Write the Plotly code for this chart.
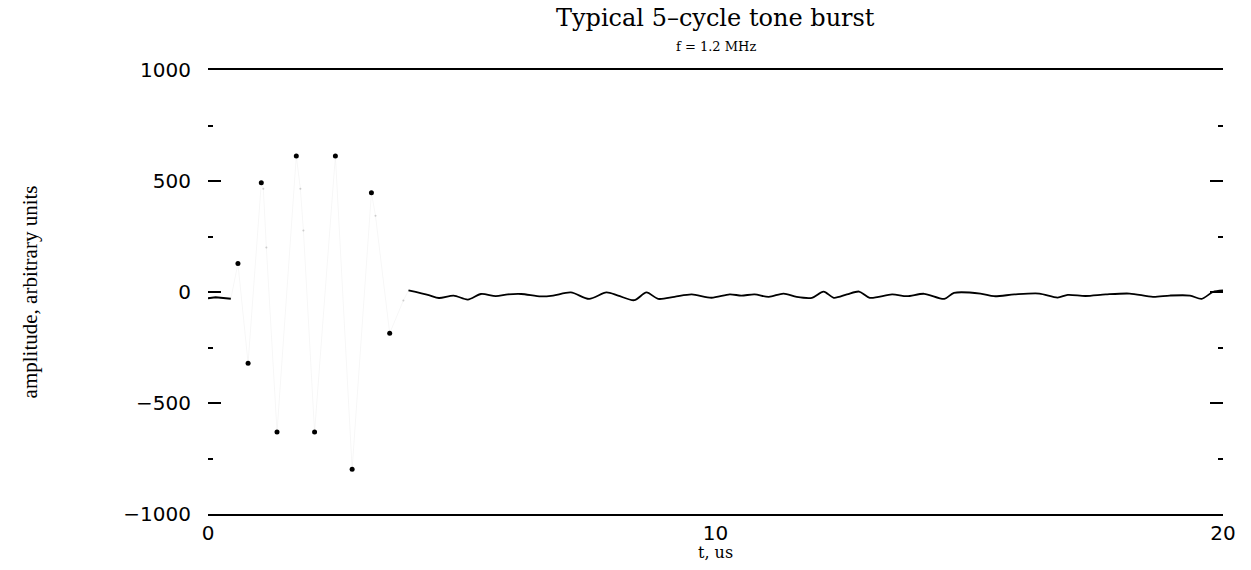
import plotly.graph_objects as go
import numpy as np

# --- data ---
# lead-in (before the burst)
lead_t = [0.0, 0.15, 0.30, 0.45]
lead_v = [-28, -24, -27, -30]

# clearly visible burst samples (peaks)
burst_t = [0.59, 0.79, 1.05, 1.36, 1.74, 2.10, 2.51, 2.84, 3.22, 3.58]
burst_v = [128, -321, 492, -631, 613, -631, 613, -798, 447, -186]

# faint burst samples on the slopes
faint_t = [1.09, 1.15, 1.82, 1.88, 3.30, 3.85]
faint_v = [465, 200, 465, 277, 344, -38]

# ringing tail after the burst
tail_t = [3.95, 4.35, 4.55, 4.84, 5.12, 5.38, 5.67, 5.91, 6.17, 6.56, 6.80, 7.15,
          7.51, 7.85, 8.08, 8.40, 8.64, 8.87, 9.19, 9.53, 9.92, 10.28, 10.51,
          10.77, 11.05, 11.34, 11.60, 11.90, 12.13, 12.33, 12.59, 12.83, 13.04,
          13.48, 13.77, 14.11, 14.51, 14.70, 15.22, 15.49, 15.89, 16.38, 16.74,
          16.94, 17.29, 17.69, 18.16, 18.62, 18.95, 19.35, 19.58, 19.80, 20.0]
tail_v = [7, -14, -27, -16, -34, -9, -19, -11, -9, -20, -16, -2,
          -31, -2, -16, -37, -2, -31, -22, -11, -26, -11, -16,
          -11, -22, -7, -22, -26, 2, -26, -11, 2, -26,
          -11, -19, -8, -31, -4, -7, -19, -11, -7, -25,
          -13, -18, -11, -7, -22, -16, -16, -31, 0, 7]

x_ticks = [0, 10, 20]
y_ticks = [-1000, -500, 0, 500, 1000]
y_ticktext = ["\u22121000", "\u2212500", "0", "500", "1000"]

title_text = "Typical 5\u2013cycle tone burst"
subtitle_text = "f = 1.2 MHz"
x_title = "t, us"
y_title = "amplitude, arbitrary units"

# faint full waveform through the burst
all_t = np.array(lead_t + burst_t + faint_t + [tail_t[0]])
all_v = np.array(lead_v + burst_v + faint_v + [tail_v[0]])
order = np.argsort(all_t)

fig = go.Figure()
fig.add_trace(go.Scatter(x=all_t[order], y=all_v[order], mode="lines",
                         line=dict(color="rgba(0,0,0,0.035)", width=1),
                         hoverinfo="skip", showlegend=False))
fig.add_trace(go.Scatter(x=lead_t, y=lead_v, mode="lines",
                         line=dict(color="black", width=2), showlegend=False))
fig.add_trace(go.Scatter(x=burst_t, y=burst_v, mode="markers",
                         marker=dict(color="black", size=5), showlegend=False))
fig.add_trace(go.Scatter(x=faint_t, y=faint_v, mode="markers",
                         marker=dict(color="#cccccc", size=2), showlegend=False))
fig.add_trace(go.Scatter(x=tail_t, y=tail_v, mode="lines",
                         line=dict(color="black", width=1.8, shape="spline", smoothing=0.8),
                         showlegend=False))

fig.update_layout(
    width=1251, height=570,
    margin=dict(l=208, r=28, t=70, b=56),
    paper_bgcolor="white", plot_bgcolor="white",
    font=dict(family="DejaVu Sans", color="black"),
    xaxis=dict(range=[0, 20], tickvals=x_ticks, showgrid=False, zeroline=False,
               showline=True, mirror=True, linecolor="black", linewidth=2,
               ticks="", tickfont=dict(family="DejaVu Sans", size=20),
               ticklabelstandoff=0),
    yaxis=dict(range=[-1000, 1000], tickvals=y_ticks, ticktext=y_ticktext,
               showgrid=False, zeroline=False, showline=False,
               ticks="inside", ticklen=13, tickwidth=1.5, tickcolor="black",
               mirror="ticks",
               minor=dict(dtick=250, ticks="inside", ticklen=5, tickwidth=1.5,
                          tickcolor="black", showgrid=False),
               tickfont=dict(family="DejaVu Sans", size=20),
               ticklabelstandoff=16),
    annotations=[
        dict(text=title_text, xref="paper", yref="paper", x=0.5, y=1.117,
             xanchor="center", yanchor="middle", showarrow=False,
             font=dict(family="DejaVu Serif", size=24)),
        dict(text=subtitle_text, xref="paper", yref="paper", x=0.5, y=1.054,
             xanchor="center", yanchor="middle", showarrow=False,
             font=dict(family="DejaVu Serif", size=13)),
        dict(text=x_title, xref="paper", yref="paper", x=0.5, y=-0.086,
             xanchor="center", yanchor="middle", showarrow=False,
             font=dict(family="DejaVu Serif", size=16)),
        dict(text=y_title, xref="paper", yref="paper", x=-0.175, y=0.5,
             xanchor="center", yanchor="middle", showarrow=False, textangle=-90,
             font=dict(family="Liberation Serif", size=21)),
    ],
)

fig.write_html("out.html")
